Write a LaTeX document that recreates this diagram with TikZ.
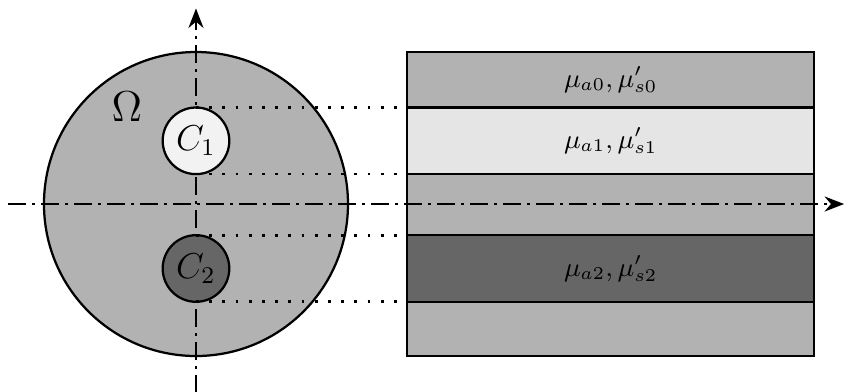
\documentclass[tikz,border=0pt]{standalone}
\usepackage{amsmath}
\usetikzlibrary{arrows.meta}

\begin{document}
\begin{tikzpicture}[
		disc/.style={draw, circle, line width=0.75pt, inner sep=0pt, outer sep=0pt},
		band/.style={draw, line width=0.75pt, minimum width=4.766cm, inner sep=0pt, outer sep=0pt, font=\small},
		axis/.style={line width=0.75pt, dash pattern=on 6pt off 2pt on 1pt off 2pt, -{Stealth[length=6.5pt,width=5pt]}},
		guide/.style={line width=0.9pt, dash pattern=on 0.9pt off 3.5pt}
	]

	\useasboundingbox (-2.295,-2.201) rectangle (7.600,2.389);

	\node[disc, fill=black!30, minimum size=3.56cm] (dom) at (0,0) {};
	\node[font=\Large] (omega) at (-0.81,1.14) {$\Omega$};

	\node[band, fill=black!30, minimum height=0.65cm] (l0) at (4.857,1.455) {$\mu_{a0}, \mu'_{s0}$};
	\node[band, fill=black!10, minimum height=0.78cm] (l1) at (4.857,0.74) {$\mu_{a1}, \mu'_{s1}$};
	\node[band, fill=black!30, minimum height=0.715cm] (l2) at (4.857,-0.0075) {};
	\node[band, fill=black!60, minimum height=0.78cm] (l3) at (4.857,-0.755) {$\mu_{a2}, \mu'_{s2}$};
	\node[band, fill=black!30, minimum height=0.635cm] (l4) at (4.857,-1.4625) {};

	\coordinate (xa) at (-2.2,0);
	\coordinate (xb) at (7.59,0);
	\coordinate (ya) at (0,-2.21);
	\coordinate (yb) at (0,2.29);

	\draw[axis] (xa) -- (xb);
	\draw[axis] (ya) -- (yb);

	\node[disc, fill=black!5, minimum size=0.78cm, font=\large] (c1) at (0,0.74) {$C_1$};
	\node[disc, fill=black!60, minimum size=0.78cm, font=\large] (c2) at (0,-0.755) {$C_2$};

	\draw[guide] (c1.north) -- (l1.north west);
	\draw[guide] (c1.south) -- (l1.south west);
	\draw[guide] (c2.north) -- (l3.north west);
	\draw[guide] (c2.south) -- (l3.south west);
\end{tikzpicture}
\end{document}
